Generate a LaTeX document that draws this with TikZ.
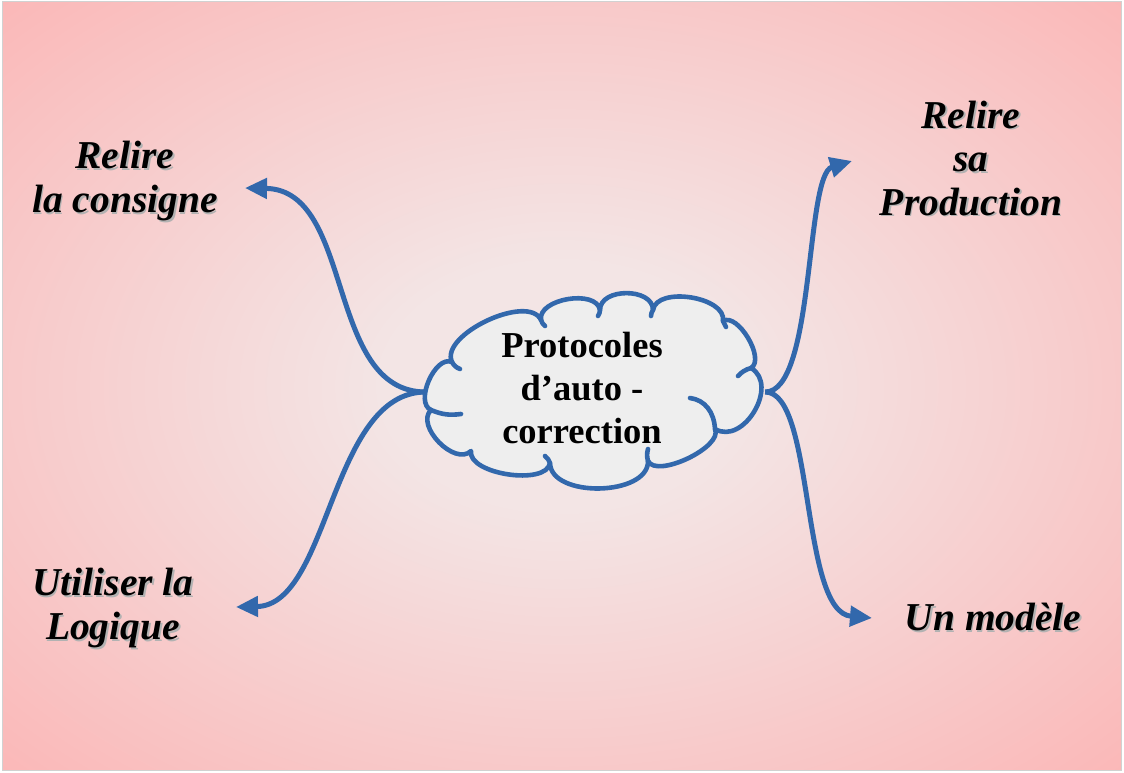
\documentclass[tikz,border=0pt]{standalone}
\usepackage{fontspec}
\setmainfont{Liberation Serif}
\usepackage{tikz}
\usetikzlibrary{arrows.meta}
\usepackage{xcolor}

\definecolor{bgin}{RGB}{243,229,229}
\definecolor{bgout}{RGB}{255,160,160}
\definecolor{linkblue}{RGB}{50,104,172}
\definecolor{cloudfill}{RGB}{238,238,238}
\pgfdeclareradialshading{bgglow}{\pgfpoint{0bp}{0bp}}{color(0bp)=(bgin); color(8bp)=(bgin); color(50bp)=(bgout)}

\newcommand{\shd}[1]{\leavevmode\rlap{\kern1.6pt\raisebox{-1.6pt}{\textcolor{black!30}{#1}}}#1}

\tikzset{
  link/.style={draw=linkblue, line width=5pt, -{Triangle[length=22pt,width=20pt]}},
  lbl/.style={align=center, font=\fontsize{39.5}{43.5}\selectfont\bfseries\itshape, inner sep=0pt},
  puff/.style={bend right=90, looseness=#1},
}

\begin{document}
\begin{tikzpicture}[x=1pt,y=-1pt]
   \useasboundingbox (0,0) rectangle (1124,773);
   \shade[shading=bgglow] (2,2) rectangle (1121,770);
   \draw[black!18, line width=1pt] (2,2) rectangle (1121,770);

   % cloud outline, puff by puff
   \node[inner sep=0pt, minimum width=339pt, minimum height=192pt] (cloud) at (595.5,392) {};
   \filldraw[draw=linkblue, fill=cloudfill, line width=4.6pt, line join=round]
     (452,362) to[puff=0.9] (431,410) to[puff=1.0] (471,451) to[puff=0.75] (550,463)
     to[puff=0.92] (648,461) to[puff=0.68] (715,429) to[puff=1.2] (751,368)
     to[puff=0.8] (723,321) to[puff=0.88] (653,310) to[puff=1.09] (600,310)
     to[puff=0.92] (541,320) to[puff=0.78] cycle;
   \begin{scope}[draw=linkblue, line width=4.6pt, line cap=round]
     \draw (452,362) to[bend right=20] (460,369);
     \draw (431,410) to[bend right=15] (461,414);
     \draw (550,463) to[bend right=15] (545,456);
     \draw (648,461) to[bend left=15] (648,449);
     \draw (690,398) .. controls (705,400) and (714,412) .. (715,429);
     \draw (751,368) to[bend right=15] (738,376);
     \draw (723,321) -- (726,327);
     \draw (653,310) to[bend right=15] (651,316);
     \draw (600,310) to[bend left=15] (598,316);
     \draw (541,320) to[bend right=15] (545,326);
   \end{scope}
   \node[align=center, font=\fontsize{36.5}{43}\selectfont\bfseries, inner sep=0pt] (title) at (582,388)
        {Protocoles\\d’auto -\\correction};

   \node[lbl] (consigne) at (125,182) {\shd{Relire}\\\shd{la consigne}};
   \node[lbl] (production) at (971,159) {\shd{Relire}\\\shd{sa}\\\shd{Production}};
   \node[lbl] (logique) at (113,609) {\shd{Utiliser la}\\\shd{Logique}};
   \node[lbl] (modele) at (993,618) {\shd{Un modèle}};

   \coordinate (tipA) at (245,188);
   \coordinate (tipB) at (236,607);
   \coordinate (tipC) at (852,161);
   \coordinate (tipD) at (872,618);

   \draw[link] (cloud.west) .. controls (325,392) and (355,190) .. (tipA);
   \draw[link] (cloud.west) .. controls (330,392) and (330,605) .. (tipB);
   \draw[link] (cloud.east) .. controls (815,392) and (805,175) .. (tipC);
   \draw[link] (cloud.east) .. controls (815,392) and (800,612) .. (tipD);
\end{tikzpicture}
\end{document}
